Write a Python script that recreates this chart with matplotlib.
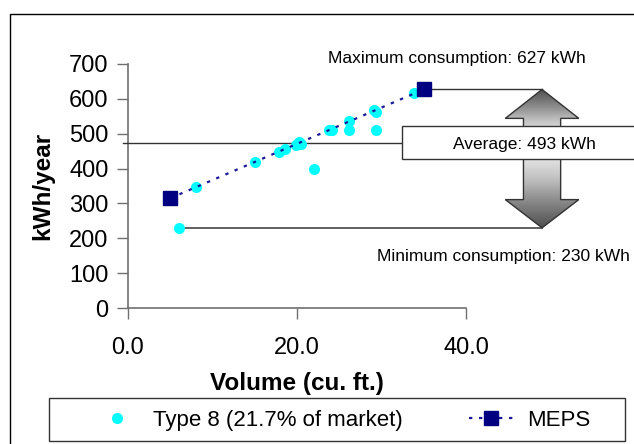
import matplotlib
matplotlib.use("Agg")
import matplotlib.pyplot as plt
from matplotlib.patches import Polygon, Rectangle
from matplotlib.lines import Line2D
import numpy as np

plt.rcParams["font.family"] = ["Liberation Sans", "DejaVu Sans"]

# ---- data ----
type8_volume = [6.0, 8.0, 15.0, 17.9, 18.6, 19.9, 20.5, 20.2, 22.0, 23.8, 24.2,
                26.1, 26.1, 29.1, 29.4, 29.4, 33.9, 35.2]
type8_kwh = [230, 347, 418, 448, 455, 467, 470, 477, 398, 510, 510,
             536, 510, 568, 563, 510, 616, 627]

meps_volume = [5.0, 35.0]
meps_kwh = [315, 627]

max_kwh = 627
min_kwh = 230
avg_label = 493
avg_line_kwh = 474

x_ticks = [0, 20, 40]
x_tick_labels = ["0.0", "20.0", "40.0"]
y_ticks = [0, 100, 200, 300, 400, 500, 600, 700]

W, H = 634, 444
fig = plt.figure(figsize=(W / 100, H / 100), dpi=100)
fig.patch.set_facecolor("white")

# outer chart frame (right/bottom edges fall outside the picture)
fig.patches.append(Rectangle((10 / W, -0.1), 1.2, (H - 14) / H + 0.1,
                             transform=fig.transFigure, fill=False,
                             edgecolor="black", linewidth=1.0))

ax = fig.add_axes([128 / W, (H - 308) / H, (466 - 128) / W, (308 - 64) / H])
ax.set_xlim(0, 40)
ax.set_ylim(0, 700)

axis_col = "#707070"
for side in ("top", "right"):
    ax.spines[side].set_visible(False)
for side in ("left", "bottom"):
    ax.spines[side].set_color(axis_col)
    ax.spines[side].set_linewidth(1.2)
ax.tick_params(direction="out", length=8, width=1.0, color=axis_col,
               labelsize=17)
ax.set_xticks(x_ticks)
ax.set_xticklabels(x_tick_labels)
ax.set_yticks(y_ticks)
ax.tick_params(axis="x", pad=13)
ax.tick_params(axis="y", pad=6)

ax.set_xlabel("Volume (cu. ft.)", fontsize=17.5, fontweight="bold")
ax.set_ylabel("kWh/year", fontsize=17.5, fontweight="bold")
ax.xaxis.label.set_va("center")
ax.yaxis.label.set_va("center")
ax.xaxis.set_label_coords(0.5, (308 - 383) / (308 - 64))
ax.yaxis.set_label_coords((43 - 128) / (466 - 128), 0.5)

# ---- series ----
ax.plot(type8_volume, type8_kwh, linestyle="none", marker="o",
        markersize=8, color="#00FFFF", markeredgewidth=0, zorder=4,
        clip_on=False)
ax.plot(meps_volume, meps_kwh, linestyle=(0, (1.5, 3)), color="#1a1a99",
        linewidth=1.6, marker="s", markersize=10, markerfacecolor="#000080",
        markeredgecolor="#000080", zorder=5, clip_on=False)

# ---- min / max / average annotation ----
arrow_x = 49.0
line_kw = dict(color="#333333", linewidth=1.0, clip_on=False, zorder=3)
ax.plot([meps_volume[1], arrow_x], [max_kwh, max_kwh], **line_kw)
ax.plot([type8_volume[0], arrow_x], [min_kwh, min_kwh], color="#555555",
        linewidth=1.3, clip_on=False, zorder=3)

box_left, box_right = 32.4, 60.0
box_bot, box_top = 427, 522
ax.plot([-0.6, box_left], [avg_line_kwh, avg_line_kwh], **line_kw)

head_hw, shaft_hw = 4.35, 2.2
head_top_base, head_bot_base = 544, 311
arrow_pts = [
    (arrow_x, max_kwh),
    (arrow_x + head_hw, head_top_base),
    (arrow_x + shaft_hw, head_top_base),
    (arrow_x + shaft_hw, head_bot_base),
    (arrow_x + head_hw, head_bot_base),
    (arrow_x, min_kwh),
    (arrow_x - head_hw, head_bot_base),
    (arrow_x - shaft_hw, head_bot_base),
    (arrow_x - shaft_hw, head_top_base),
    (arrow_x - head_hw, head_top_base),
]
arrow = Polygon(arrow_pts, closed=True, facecolor="none",
                edgecolor="#333333", linewidth=1.0, clip_on=False, zorder=3)
ax.add_patch(arrow)

# gradient fill: white around the average box, dark grey at both tips
yy = np.linspace(max_kwh, min_kwh, 300)
shade = np.where(yy > avg_line_kwh,
                 (yy - avg_line_kwh) / (max_kwh - avg_line_kwh),
                 (avg_line_kwh - yy) / (avg_line_kwh - min_kwh))
grad = np.tile(shade[:, None], (1, 2))
img = ax.imshow(grad, cmap="Greys", vmin=-0.1, vmax=1.35, aspect="auto",
                extent=(arrow_x - head_hw, arrow_x + head_hw, min_kwh, max_kwh),
                origin="upper", zorder=2, interpolation="bilinear")
img.set_clip_box(fig.bbox)
img.set_clip_path(arrow)

ax.add_patch(Rectangle((box_left, box_bot), box_right - box_left,
                       box_top - box_bot, facecolor="white",
                       edgecolor="#333333", linewidth=1.0, clip_on=False,
                       zorder=6))
ax.text(46.9, 470, f"Average: {avg_label} kWh", ha="center", va="center",
        fontsize=12.5, zorder=7, clip_on=False)
fig.text(457 / W, (H - 58) / H, f"Maximum consumption: {max_kwh} kWh",
         ha="center", va="center", fontsize=12.5)
fig.text(503 / W, (H - 256) / H, f"Minimum consumption: {min_kwh} kWh",
         ha="center", va="center", fontsize=12.5)

ax.set_xlim(0, 40)
ax.set_ylim(0, 700)

# ---- legend ----
fig.patches.append(Rectangle((49 / W, (H - 441) / H), (625 - 49) / W, 43 / H,
                             transform=fig.transFigure, fill=False,
                             edgecolor="#333333", linewidth=1.0))
handles = [
    Line2D([], [], linestyle="none", marker="o", markersize=8,
           color="#00FFFF", markeredgewidth=0),
    Line2D([], [], linestyle=(0, (1.5, 3)), color="#1a1a99", linewidth=1.6,
           marker="s", markersize=10, markerfacecolor="#000080",
           markeredgecolor="#000080"),
]
leg = fig.legend(handles, ["Type 8 (21.7% of market)", "MEPS"],
                 loc="center left", ncol=2,
                 bbox_to_anchor=(95 / W, (H - 420) / H),
                 fontsize=16, frameon=False, handlelength=2.0,
                 handletextpad=0.6, borderpad=0, borderaxespad=0,
                 columnspacing=3.0)

fig.savefig("out.png", dpi=100)
